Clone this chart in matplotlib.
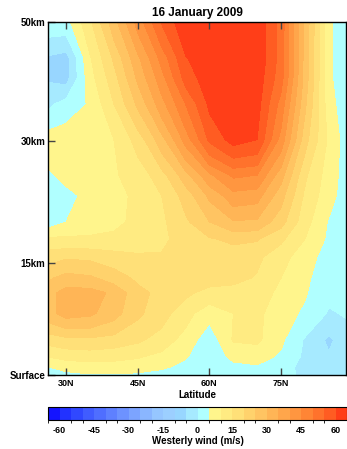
import numpy as np
import matplotlib
matplotlib.use("Agg")
import matplotlib.pyplot as plt
from matplotlib.colors import ListedColormap, BoundaryNorm
from matplotlib.ticker import NullLocator

plt.rcParams['font.family'] = ['Liberation Sans', 'DejaVu Sans']
plt.rcParams['font.weight'] = 'bold'
plt.rcParams['axes.unicode_minus'] = False

# grid
latitude = [26, 30, 35, 40, 45, 50, 55, 60, 65, 70, 75, 80, 85, 89]
pressure = [1000, 850, 700, 500, 300, 200, 150, 100, 70, 50, 30, 20, 10, 5, 3, 2, 1]

# zonal wind (m/s), one row per pressure level (surface first)
wind = [
    [2, 3.5, 4.5, 4.5, 4, 3, 2, 1.5, 2, 2.5, 1.5, -1, -2, -1],
    [5, 7, 8, 8, 7.5, 6, 3.5, 1, 3.5, 4.5, 2, -1.5, -3.5, -1],
    [10, 11.5, 12, 11.5, 10.5, 8.5, 5.5, 1, 6.5, 7, 4.2, -1, -4.5, -1.5],
    [17, 18.5, 19, 18, 16, 13, 8, 2, 10.5, 11, 6, -0.5, -6, -2],
    [28, 32, 31, 27, 21, 17, 12, 6.5, 10, 11, 7.5, 4, -0.5, 0.5],
    [28, 32, 32, 29, 21.5, 18.5, 16, 13.5, 13, 12, 9, 5.5, 1, 0.5],
    [24, 27, 26, 22.5, 19, 17.5, 17, 17, 16.5, 14.5, 10, 6, 2, 0.5],
    [18, 19.5, 19, 17.5, 16, 15.5, 16, 17, 17.5, 16, 12, 7, 3, 0.5],
    [11, 11, 11, 11, 12, 14, 17, 19.5, 21, 20.5, 16, 10, 4, 1],
    [2, 5, 7, 9, 11, 14, 19, 25, 29.5, 29, 22, 12, 4.5, 1],
    [1, 3.5, 6.5, 8.5, 11, 15, 22, 31, 38, 37, 27, 14, 7, 2],
    [4, 6.5, 8, 9.5, 12, 18, 28, 39, 46, 45, 32, 16, 7.5, 2.5],
    [8, 8, 8.5, 10, 17, 28, 42, 56, 62, 60, 43, 22, 9, 2],
    [-1.5, 2.5, 5.5, 15, 26, 38, 50, 61, 64, 62, 48, 26, 7, 1.5],
    [-5.5, -7, 8, 18, 31, 43, 57, 63, 64.5, 63, 52, 28, 6, 1],
    [-5.5, -7, 9.5, 21, 34, 47, 59.7, 64, 64.5, 64, 53, 28, 6, 1],
    [3, 3, 14, 28, 42, 55.4, 64, 64.5, 64.5, 64, 53, 29, 6, 1],
]

levels = list(range(-65, 70, 5))
cool_colors = ['#1414ff', '#2232ff', '#3048ff', '#405cff', '#4f6eff', '#5e80ff',
               '#6d92ff', '#7ca4ff', '#8ab6ff', '#96c6ff', '#9ccfff', '#98d6ff',
               '#a6eaff']
zero_color = ['#b0ffff']
warm_colors = ['#fff58c', '#ffeb82', '#ffe078', '#ffd26c', '#ffc462', '#ffb556',
               '#ffa64b', '#ff9640', '#ff8535', '#ff722c', '#ff5c22', '#ff3e18']

ylabels = ['Surface', '15km', '30km', '50km']
ylabel_pressure = [1000, 112, 10.2, 1]
xticks = [30, 45, 60, 75]
xlabels = ['30N', '45N', '60N', '75N']
cbar_ticks = [-60, -45, -30, -15, 0, 15, 30, 45, 60]

cmap = ListedColormap(cool_colors + zero_color + warm_colors)
norm = BoundaryNorm(levels, cmap.N)

fig = plt.figure(figsize=(3.47, 4.49), dpi=100)
ax = fig.add_axes([48 / 347, 74 / 449, 298 / 347, 353 / 449])
cs = ax.contourf(latitude, pressure, np.array(wind), levels=levels, cmap=cmap, norm=norm)

ax.set_yscale('log')
ax.set_ylim(1000, 1)
ax.set_xlim(26.2, 88.6)
ax.yaxis.set_minor_locator(NullLocator())
ax.set_yticks(ylabel_pressure)
ax.set_yticklabels(ylabels)
ax.set_xticks(xticks)
ax.set_xticklabels(xlabels)
ax.tick_params(axis='both', direction='in', length=5, width=1, color='#444444',
               labelsize=6.5, pad=3, top=True)
ax.tick_params(axis='y', pad=2, labelsize=7)
for s in ax.spines.values():
    s.set_linewidth(1)
ax.set_xlabel('Latitude', fontsize=7, fontweight='bold', labelpad=1)
ax.set_title('16 January 2009', fontsize=8.5, fontweight='bold', pad=4)

cax = fig.add_axes([48 / 347, 29 / 449, 299 / 347, 13 / 449])
cb = fig.colorbar(cs, cax=cax, orientation='horizontal', ticks=cbar_ticks)
cb.outline.set_linewidth(0.8)
cax.tick_params(length=0, labelsize=6.5, pad=4)
cb.set_label('Westerly wind (m/s)', fontsize=7, fontweight='bold', labelpad=1)

fig.savefig('out.png', dpi=100)
